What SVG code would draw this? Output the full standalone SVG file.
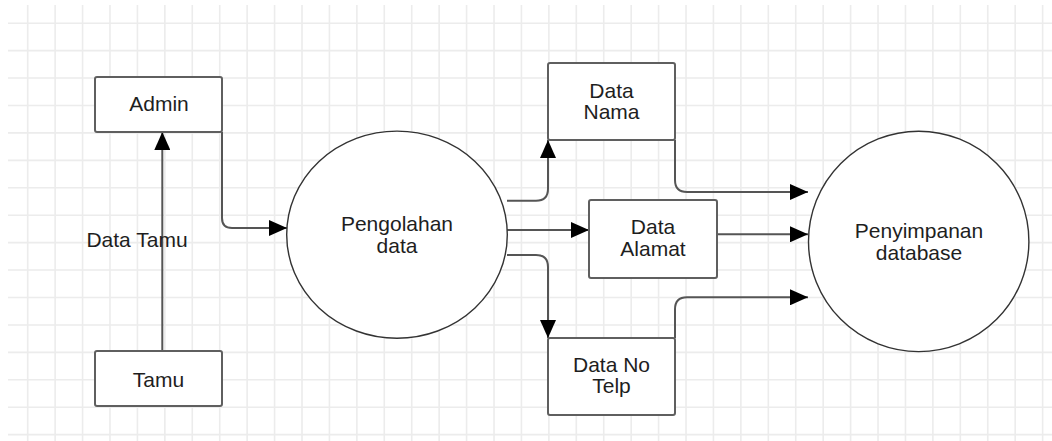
<svg xmlns="http://www.w3.org/2000/svg" width="1052" height="441" viewBox="0 0 1052 441">
  <style>
    .grid { fill: none; stroke: #ececec; stroke-width: 1.6; }
    .box { fill: #ffffff; stroke: #5f5f5f; stroke-width: 2; }
    .proc { fill: #ffffff; stroke: #333333; stroke-width: 1.4; }
    .edge { fill: none; stroke: #555555; stroke-width: 2; marker-end: url(#arrow); }
    .label { font-family: "Liberation Sans", Arial, sans-serif; font-size: 21px; fill: #1e1e1e; text-anchor: middle; }
  </style>
  <defs>
    <marker id="arrow" markerUnits="userSpaceOnUse" markerWidth="18" markerHeight="16" refX="18" refY="8" orient="auto" viewBox="0 0 18 16">
      <path d="M0,0 L18,8 L0,16 Z" fill="#000000"/>
    </marker>
  </defs>

  <rect x="0" y="0" width="1052" height="441" fill="#ffffff"/>

  <!-- background grid -->
  <g id="grid">
    <path class="grid" d="M27.7,5 v436 m27.43,-436 v436 m27.43,-436 v436 m27.43,-436 v436 m27.43,-436 v436 m27.43,-436 v436 m27.43,-436 v436 m27.43,-436 v436 m27.43,-436 v436 m27.43,-436 v436 m27.43,-436 v436 m27.43,-436 v436 m27.43,-436 v436 m27.43,-436 v436 m27.43,-436 v436 m27.43,-436 v436 m27.43,-436 v436 m27.43,-436 v436 m27.43,-436 v436 m27.43,-436 v436 m27.43,-436 v436 m27.43,-436 v436 m27.43,-436 v436 m27.43,-436 v436 m27.43,-436 v436 m27.43,-436 v436 m27.43,-436 v436 m27.43,-436 v436 m27.43,-436 v436 m27.43,-436 v436 m27.43,-436 v436 m27.43,-436 v436 m27.43,-436 v436 m27.43,-436 v436 m27.43,-436 v436 m27.43,-436 v436 m27.43,-436 v436 m27.43,-436 v436"/>
    <path class="grid" d="M8,23.2 h1044 m-1044,27.43 h1044 m-1044,27.43 h1044 m-1044,27.43 h1044 m-1044,27.43 h1044 m-1044,27.43 h1044 m-1044,27.43 h1044 m-1044,27.43 h1044 m-1044,27.43 h1044 m-1044,27.43 h1044 m-1044,27.43 h1044 m-1044,27.43 h1044 m-1044,27.43 h1044 m-1044,27.43 h1044 m-1044,27.43 h1044 m-1044,27.43 h1044"/>
  </g>

  <!-- connectors -->
  <g id="connectors">
    <path class="edge" d="M162.3,351 V132"/>
    <path class="edge" d="M222,132 V218 Q222,228 232,228 H287"/>
    <path class="edge" d="M507,200.7 H536 Q548,200.7 548,188.7 V140"/>
    <path class="edge" d="M507,230 H589"/>
    <path class="edge" d="M507,255 H536 Q548,255 548,267 V338"/>
    <path class="edge" d="M675,140 V180 Q675,192 687,192 H808"/>
    <path class="edge" d="M717,234.3 H808"/>
    <path class="edge" d="M675,338 V309.3 Q675,297.3 687,297.3 H808"/>
    <text class="label" x="137" y="247">Data Tamu</text>
  </g>

  <!-- nodes -->
  <g id="admin">
    <rect class="box" x="95" y="77" width="127" height="55" rx="2"/>
    <text class="label" x="159" y="111">Admin</text>
  </g>
  <g id="tamu">
    <rect class="box" x="95" y="351" width="127" height="55" rx="2"/>
    <text class="label" x="158.5" y="386.5">Tamu</text>
  </g>
  <g id="pengolahan">
    <ellipse class="proc" cx="397" cy="234.7" rx="110.3" ry="103.6"/>
    <text class="label" x="397" y="230.7">Pengolahan</text>
    <text class="label" x="397" y="253">data</text>
  </g>
  <g id="data-nama">
    <rect class="box" x="548" y="63" width="127" height="77" rx="2"/>
    <text class="label" x="611.5" y="97.7">Data</text>
    <text class="label" x="611.5" y="119.3">Nama</text>
  </g>
  <g id="data-alamat">
    <rect class="box" x="589" y="200" width="128" height="78" rx="2"/>
    <text class="label" x="653" y="234.3">Data</text>
    <text class="label" x="653" y="256">Alamat</text>
  </g>
  <g id="data-no-telp">
    <rect class="box" x="548" y="338" width="127" height="77" rx="2"/>
    <text class="label" x="611.5" y="371.7">Data No</text>
    <text class="label" x="611.5" y="393.3">Telp</text>
  </g>
  <g id="penyimpanan">
    <circle class="proc" cx="918.7" cy="241.4" r="110.2"/>
    <text class="label" x="919" y="238.3">Penyimpanan</text>
    <text class="label" x="919" y="260">database</text>
  </g>
</svg>
